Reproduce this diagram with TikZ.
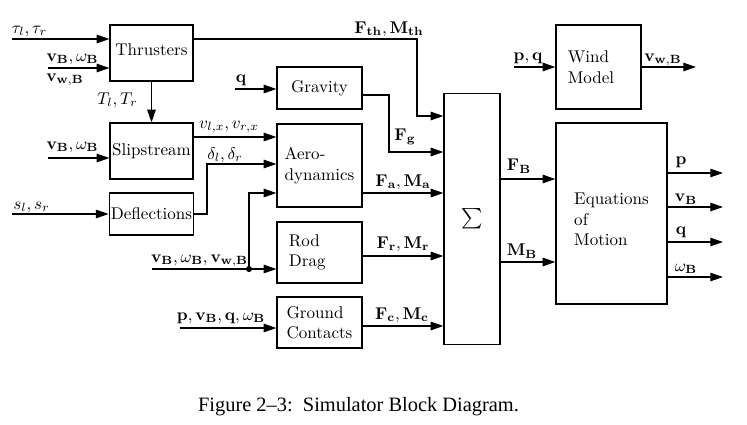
\documentclass[tikz,border=0pt]{standalone}
\usepackage{exscale}
\usepackage[no-math]{fontspec}
\newfontfamily\capfont[Ligatures=TeX]{Liberation Serif}
\usetikzlibrary{arrows.meta}

\begin{document}
\begin{tikzpicture}[
  x=0.588pt, y=-0.588pt,
  block/.style={draw, inner sep=1pt, align=left},
  lbl/.style={inner sep=0pt},
  line width=0.7pt,
  >={Triangle[length=7.5pt,width=5pt]}
]
  \useasboundingbox (0,0) rectangle (747,424);

  % blocks
  \node[block, minimum width=48.8pt, minimum height=32.9pt, text depth=4.5pt] (thr) at (151.5,53) {Thrusters};
  \node[block, minimum width=48.8pt, minimum height=32.9pt] (slip) at (151.5,151) {Slipstream};
  \node[block, minimum width=48.8pt, minimum height=24.7pt] (defl) at (151.5,214) {Deflections};
  \node[block, minimum width=50pt, minimum height=24.7pt] (grav) at (319.5,88) {Gravity};
  \node[block, minimum width=50pt, minimum height=48.8pt] (aero) at (319.5,165.5) {Aero-\\dynamics};
  \node[block, minimum width=50pt, minimum height=35.9pt, text width=36pt] (rod) at (319.5,252.5) {Rod\\Drag};
  \node[block, minimum width=50pt, minimum height=30pt] (gnd) at (319.5,322.5) {Ground\\Contacts};
  \node[block, minimum width=32.9pt, minimum height=147.6pt, font=\large] (sum) at (472,219) {$\sum$};
  \node[block, minimum width=50pt, minimum height=49.4pt, text width=36pt] (wind) at (598.5,67) {Wind\\Model};
  \node[block, minimum width=65.3pt, minimum height=106.4pt, text height=38pt] (eom) at (611.5,213.5) {Equations\\of\\Motion};

  % free ends
  \coordinate (in-tau) at (12,39);
  \coordinate (in-vw) at (48,68);
  \coordinate (in-slip) at (48,158);
  \coordinate (in-defl) at (12,214);
  \coordinate (in-q) at (235,89);
  \coordinate (in-rod) at (152,269);
  \coordinate (jrod) at (249,269);
  \coordinate (in-gnd) at (180,328);
  \coordinate (in-pq) at (514,67);
  \coordinate (out-vw) at (696,67);

  % inputs
  \draw[->] (in-tau) -- (thr.west |- in-tau);
  \draw[->] (in-vw) -- (thr.west |- in-vw);
  \draw[->] (in-slip) -- (slip.west |- in-slip);
  \draw[->] (in-defl) -- (defl.west);
  \draw[->] (in-q) -- (grav.west |- in-q);
  \draw[->] (in-rod) -- (rod.west |- in-rod);
  \fill (jrod) circle (1.8pt);
  \draw[->] (jrod) |- (aero.west |- 0,193);
  \draw[->] (in-gnd) -- (gnd.west |- in-gnd);
  \draw[->] (in-pq) -- (wind.west);

  % internal signals
  \draw[->] (thr) -- (slip);
  \draw[->] (thr.east |- in-tau) -| (417,116) -- (sum.west |- 0,116);
  \draw[->] (slip.east |- 0,137) -- (aero.west |- 0,137);
  \draw[->] (defl.east) -| (207,164) -- (aero.west |- 0,164);
  \draw[->] (grav.east |- 0,95) -| (389,152) -- (sum.west |- 0,152);
  \draw[->] (aero.east |- 0,193) -- (sum.west |- 0,193);
  \draw[->] (rod.east |- 0,256) -- (sum.west |- 0,256);
  \draw[->] (gnd.east |- 0,326) -- (sum.west |- 0,326);
  \draw[->] (sum.east |- 0,179) -- (eom.west |- 0,179);
  \draw[->] (sum.east |- 0,262) -- (eom.west |- 0,262);
  \draw[->] (wind.east) -- (out-vw);

  % outputs
  \foreach \y/\n in {173/p, 207/v, 242/q, 277/w} {
    \coordinate (out-\n) at (723,\y);
    \draw[->] (eom.east |- out-\n) -- (out-\n);
  }

  % labels
  \node[lbl] (l-tau) at (29.5,31) {$\tau_l, \tau_r$};
  \node[lbl] (l-vb1) at (72.5,59) {$\mathbf{v_B}, \omega_{\mathbf{B}}$};
  \node[lbl] (l-vw1) at (65,80) {$\mathbf{v_{w,B}}$};
  \node[lbl] (l-T) at (117.5,100) {$T_l, T_r$};
  \node[lbl] (l-vb2) at (72.5,147) {$\mathbf{v_B}, \omega_{\mathbf{B}}$};
  \node[lbl] (l-s) at (31.5,207) {$s_l, s_r$};
  \node[lbl] (l-vx) at (229,127) {$v_{l,x}, v_{r,x}$};
  \node[lbl] (l-d) at (225,155) {$\delta_l, \delta_r$};
  \node[lbl] (l-q) at (241,80) {$\mathbf{q}$};
  \node[lbl] (l-fth) at (389,29) {$\mathbf{F_{th}}, \mathbf{M_{th}}$};
  \node[lbl] (l-fg) at (405,137) {$\mathbf{F_g}$};
  \node[lbl] (l-fa) at (403,182) {$\mathbf{F_a}, \mathbf{M_a}$};
  \node[lbl] (l-fr) at (403,244) {$\mathbf{F_r}, \mathbf{M_r}$};
  \node[lbl] (l-fc) at (402,315) {$\mathbf{F_c}, \mathbf{M_c}$};
  \node[lbl] (l-vb3) at (199.5,261) {$\mathbf{v_B}, \omega_{\mathbf{B}}, \mathbf{v_{w,B}}$};
  \node[lbl] (l-pvq) at (221,318) {$\mathbf{p}, \mathbf{v_B}, \mathbf{q}, \omega_{\mathbf{B}}$};
  \node[lbl] (l-pq) at (528,58) {$\mathbf{p}, \mathbf{q}$};
  \node[lbl] (l-vw2) at (663,60) {$\mathbf{v_{w,B}}$};
  \node[lbl] (l-fb) at (519,166) {$\mathbf{F_B}$};
  \node[lbl] (l-mb) at (522,251) {$\mathbf{M_B}$};
  \node[lbl] (l-p) at (681,162) {$\mathbf{p}$};
  \node[lbl] (l-v) at (686,199) {$\mathbf{v_B}$};
  \node[lbl] (l-qo) at (681,232) {$\mathbf{q}$};
  \node[lbl] (l-w) at (686,269) {$\omega_{\mathbf{B}}$};

  % caption
  \node[font=\capfont\fontsize{12}{14}\selectfont] (cap) at (358.5,407) {Figure 2--3:\enspace Simulator Block Diagram.};
\end{tikzpicture}
\end{document}
